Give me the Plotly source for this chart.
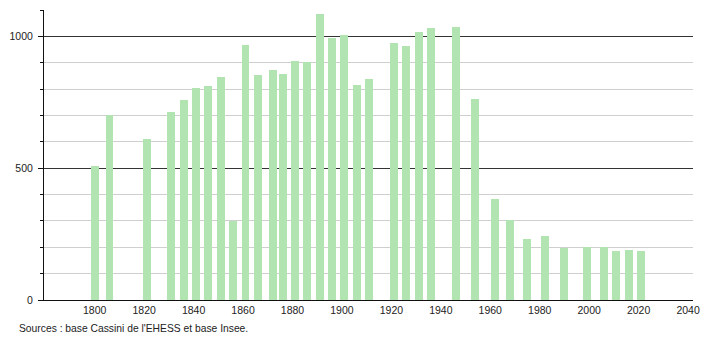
import plotly.graph_objects as go

years = [1800, 1806, 1821, 1831, 1836, 1841, 1846, 1851, 1856, 1861, 1866, 1872,
         1876, 1881, 1886, 1891, 1896, 1901, 1906, 1911, 1921, 1926, 1931, 1936,
         1946, 1954, 1962, 1968, 1975, 1982, 1990, 1999, 2006, 2011, 2016, 2021]
population = [509, 703, 611, 712, 758, 803, 810, 844, 300, 966, 854, 874,
              859, 905, 904, 1084, 995, 1005, 814, 840, 976, 962, 1016, 1030,
              1037, 763, 384, 304, 232, 241, 199, 200, 200, 184, 190, 184]
x_ticks = [1800, 1820, 1840, 1860, 1880, 1900, 1920, 1940, 1960, 1980, 2000, 2020, 2040]
y_ticks = [0, 500, 1000]
source_text = "Sources : base Cassini de l'EHESS et base Insee."

fig = go.Figure()
fig.add_trace(go.Bar(
    x=years, y=population, width=3.2,
    marker=dict(color="#b2e4b2", line=dict(width=0)),
    hoverinfo="x+y",
))

fig.update_layout(
    width=710, height=340,
    margin=dict(l=44, r=10, t=10, b=40),
    paper_bgcolor="white", plot_bgcolor="white",
    font=dict(family="Liberation Sans, Arial, sans-serif", size=10.5, color="#222"),
    showlegend=False,
    bargap=0,
)
fig.update_xaxes(
    range=[1779.5, 2042], tickvals=x_ticks, ticks="", showgrid=False,
    showline=True, linecolor="#111", linewidth=1, zeroline=False,
    tickfont=dict(size=10.5, color="#222"),
)
fig.update_yaxes(
    range=[0, 1100], tickvals=y_ticks, ticks="outside", ticklen=5, tickcolor="#111",
    showgrid=True, gridcolor="#333", gridwidth=1,
    showline=True, linecolor="#111", linewidth=1, zeroline=False,
    ticklabelstandoff=3,
    minor=dict(dtick=100, showgrid=True, gridcolor="#cfcfcf", gridwidth=1,
               ticks="outside", ticklen=3, tickcolor="#111"),
    tickfont=dict(size=10.5, color="#222"),
)
fig.add_annotation(
    text=source_text, xref="paper", yref="paper",
    x=-27 / 656, y=0, yshift=-28, xanchor="left", yanchor="middle",
    showarrow=False, font=dict(size=10.3, color="#222"),
)

fig.write_html("out.html")
